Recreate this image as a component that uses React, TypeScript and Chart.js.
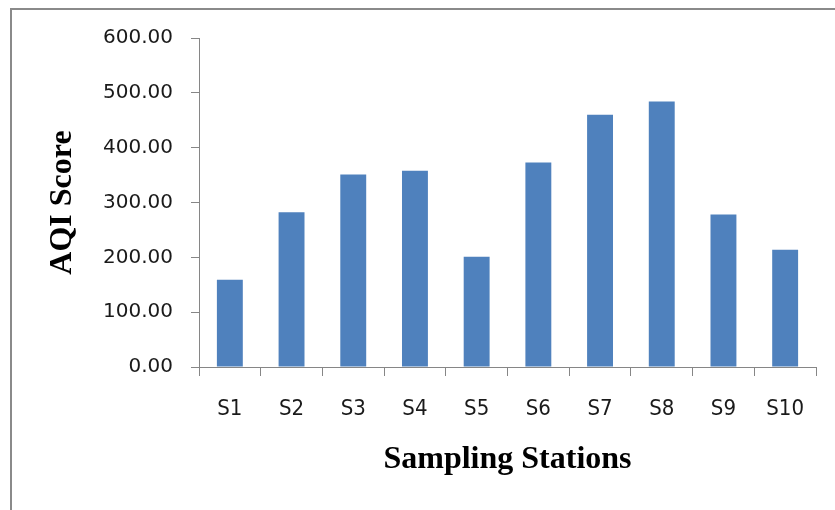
import React, { useEffect, useRef } from "react";
import { Chart, registerables } from "chart.js";

Chart.register(...registerables);

// AQI score per sampling station
const stations = ["S1", "S2", "S3", "S4", "S5", "S6", "S7", "S8", "S9", "S10"];
const aqiScores = [159, 282, 351, 358, 201, 373, 460, 484, 278, 214];
const yMin = 0;
const yMax = 600;
const yStep = 100;

const axisGray = "#868686";
const barBlue = "#4F81BD";
const serif = "'Liberation Serif', 'Times New Roman', serif";

export default function App() {
  const canvasRef = useRef<HTMLCanvasElement | null>(null);

  useEffect(() => {
    const canvas = canvasRef.current;
    if (!canvas) return;
    const chart = new Chart(canvas, {
      type: "bar",
      data: {
        labels: stations,
        datasets: [
          {
            label: "AQI Score",
            data: aqiScores,
            backgroundColor: barBlue,
            borderWidth: 0,
            categoryPercentage: 1,
            barPercentage: 0.42,
          },
        ],
      },
      options: {
        animation: false,
        responsive: false,
        devicePixelRatio: 1,
        layout: { padding: { top: 38, right: 19, left: 0, bottom: 0 } },
        plugins: {
          legend: { display: false },
          tooltip: { enabled: false },
        },
        scales: {
          x: {
            offset: true,
            afterFit: (scale: any) => {
              scale.height = 143;
            },
            grid: {
              offset: true,
              drawOnChartArea: false,
              drawTicks: true,
              tickLength: 9,
              color: axisGray,
            },
            border: { display: true, color: axisGray, width: 1 },
            ticks: {
              color: "#1a1a1a",
              padding: 20,
              font: { family: "'DejaVu Sans Condensed', 'DejaVu Sans', sans-serif", size: 22 },
            },
            title: {
              display: true,
              text: "Sampling Stations",
              color: "#000",
              padding: { top: 0, bottom: 31 },
              font: { family: serif, size: 32, weight: "bold" },
            },
          },
          y: {
            min: yMin,
            max: yMax,
            afterFit: (scale: any) => {
              scale.width = 199;
            },
            grid: {
              drawOnChartArea: false,
              drawTicks: true,
              tickLength: 8,
              color: axisGray,
            },
            border: { display: true, color: axisGray, width: 1 },
            ticks: {
              stepSize: yStep,
              color: "#1a1a1a",
              padding: 18,
              font: { family: "'DejaVu Sans', sans-serif", size: 20 },
              callback: (v: any) => Number(v).toFixed(2),
            },
            title: {
              display: true,
              text: "AQI Score",
              color: "#000",
              padding: { top: 44, bottom: 0 },
              font: { family: serif, size: 32, weight: "bold" },
            },
          },
        },
      },
    });
    return () => chart.destroy();
  }, []);

  return (
    <>
      <div
        style={{
          position: "fixed",
          left: 10,
          top: 8,
          width: 900,
          height: 600,
          borderTop: "2px solid #8a8a8a",
          borderLeft: "2px solid #8a8a8a",
          boxSizing: "border-box",
        }}
      />
      <canvas
        ref={canvasRef}
        width={835}
        height={510}
        style={{ position: "fixed", left: 0, top: 0, width: 835, height: 510 }}
      />
    </>
  );
}
